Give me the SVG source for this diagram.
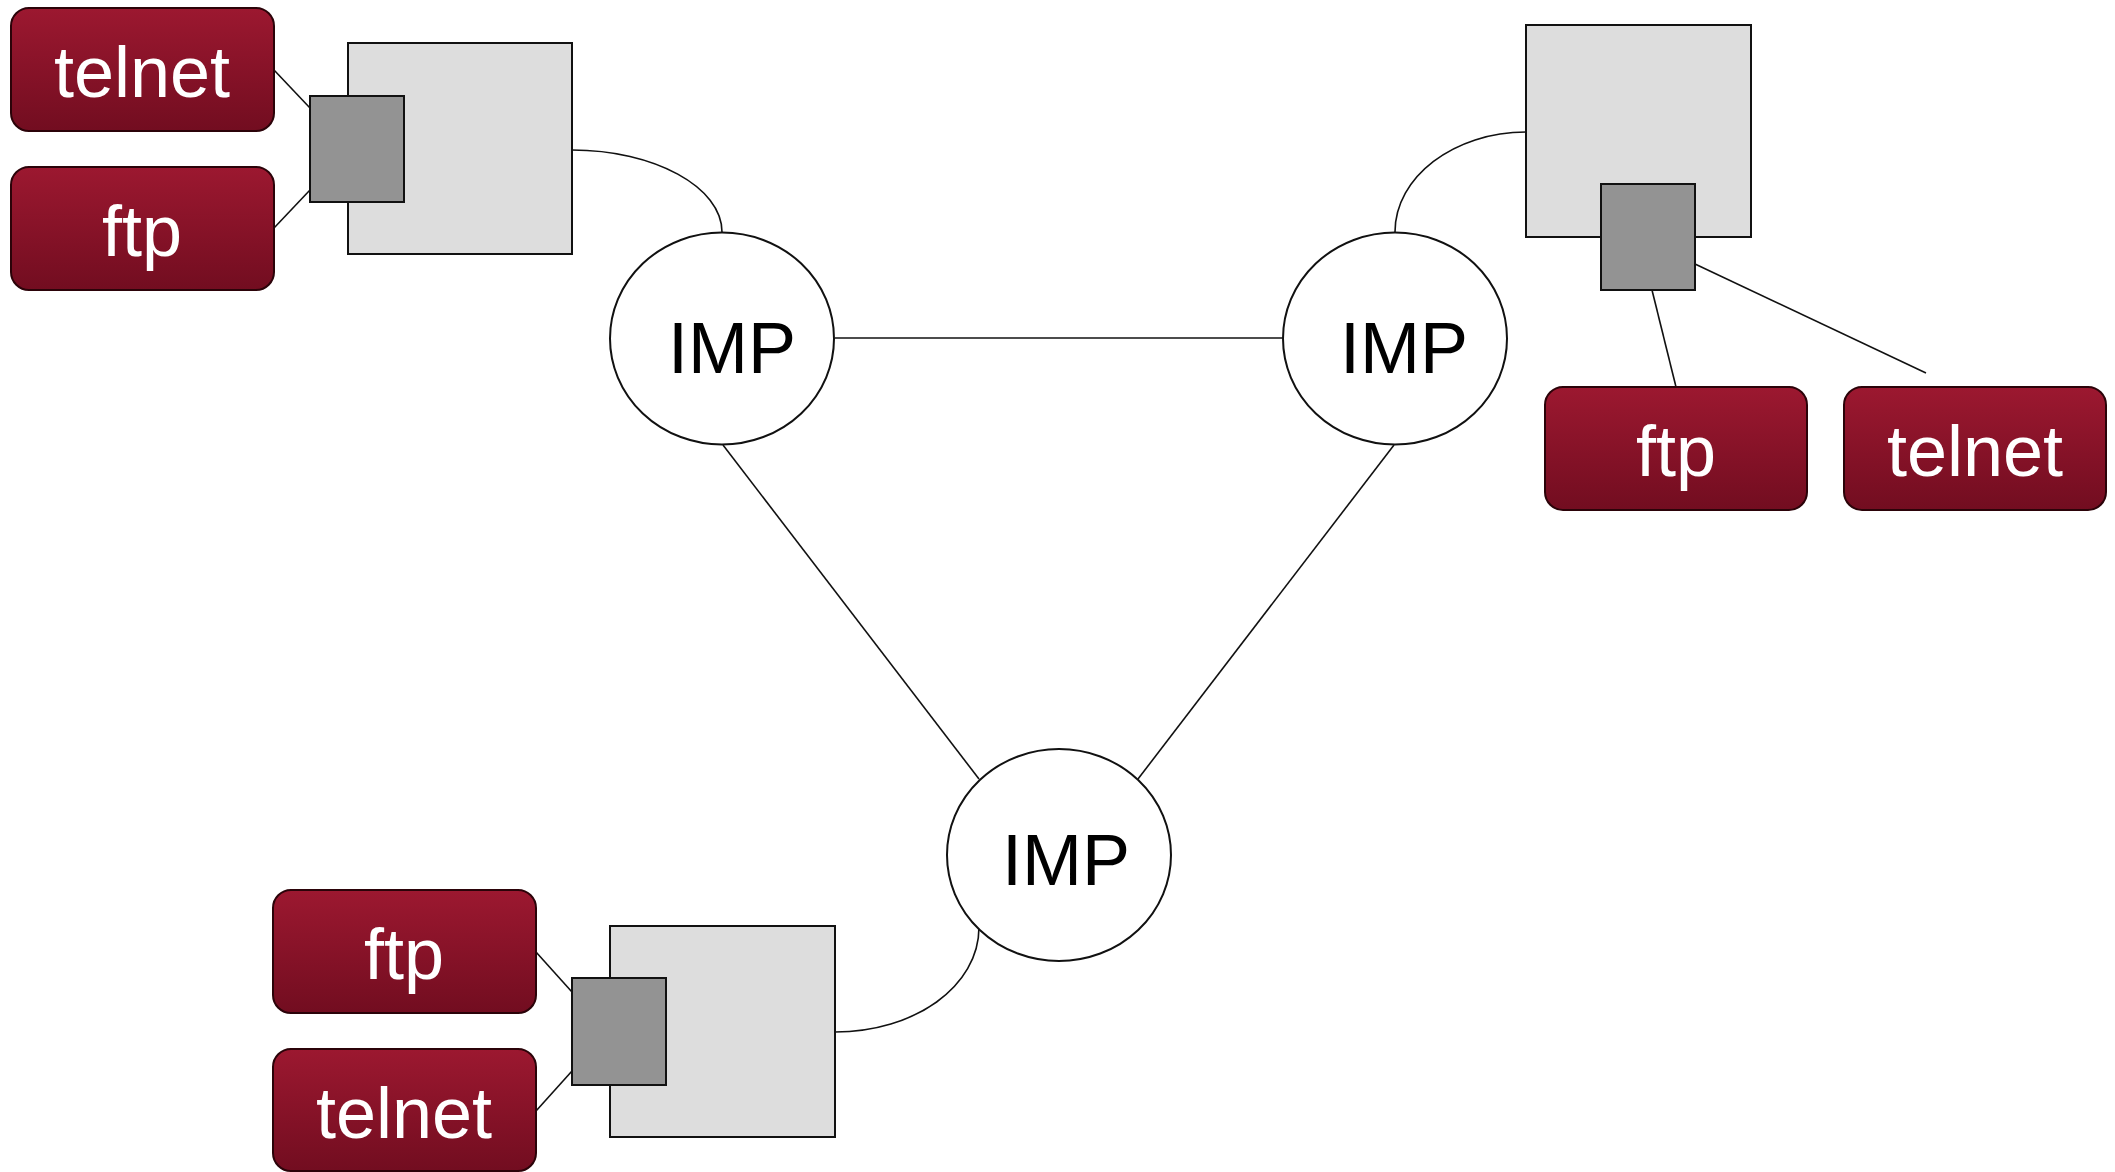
<svg xmlns="http://www.w3.org/2000/svg" width="2115" height="1172" viewBox="0 0 2115 1172">
  <defs>
    <linearGradient id="appFill" x1="0" y1="0" x2="0" y2="1">
      <stop offset="0" stop-color="#9c1830"/>
      <stop offset="1" stop-color="#720d20"/>
    </linearGradient>
    <style>
      .app rect { fill: url(#appFill); stroke: #2b0309; stroke-width: 2; }
      .app text { fill: #ffffff; font-family: "Liberation Sans", Arial, sans-serif; font-size: 72px; text-anchor: middle; }
      .host { fill: #dddddd; stroke: #111111; stroke-width: 2; }
      .port { fill: #939393; stroke: #111111; stroke-width: 2; }
      .imp ellipse { fill: #ffffff; stroke: #111111; stroke-width: 2; }
      .imp text { fill: #000000; font-family: "Liberation Sans", Arial, sans-serif; font-size: 72px; text-anchor: middle; }
      .link { fill: none; stroke: #111111; stroke-width: 1.6; }
    </style>
  </defs>
  <rect width="2115" height="1172" fill="#ffffff"/>

  <!-- connectors -->
  <g id="connectors" class="link">
    <!-- IMP backbone -->
    <line x1="835" y1="338" x2="1283" y2="338"/>
    <line x1="723" y1="445" x2="979" y2="779"/>
    <line x1="1394" y1="445" x2="1138" y2="779"/>
    <!-- hosts to IMPs -->
    <path d="M572,150 C654,150 722,187 722,232"/>
    <path d="M1395,232 C1395,177 1454,132 1526,132"/>
    <path d="M835,1032 C914,1032 979,987 979,927"/>
    <!-- applications to host ports -->
    <line x1="274" y1="70" x2="310" y2="108"/>
    <line x1="274" y1="228" x2="310" y2="190"/>
    <line x1="1652" y1="290" x2="1676" y2="387"/>
    <line x1="1695" y1="264" x2="1926" y2="373"/>
    <line x1="536" y1="952" x2="572" y2="992"/>
    <line x1="536" y1="1111" x2="572" y2="1071"/>
  </g>

  <!-- top-left host -->
  <g id="host-a">
    <rect class="host" x="348" y="43" width="224" height="211"/>
    <rect class="port" x="310" y="96" width="94" height="106"/>
  </g>
  <g id="host-a-telnet" class="app">
    <rect x="11" y="8" width="263" height="123" rx="18" ry="18"/>
    <text x="142" y="97">telnet</text>
  </g>
  <g id="host-a-ftp" class="app">
    <rect x="11" y="167" width="263" height="123" rx="18" ry="18"/>
    <text x="142" y="256">ftp</text>
  </g>

  <!-- top-right host -->
  <g id="host-b">
    <rect class="host" x="1526" y="25" width="225" height="212"/>
    <rect class="port" x="1601" y="184" width="94" height="106"/>
  </g>
  <g id="host-b-ftp" class="app">
    <rect x="1545" y="387" width="262" height="123" rx="18" ry="18"/>
    <text x="1676" y="476">ftp</text>
  </g>
  <g id="host-b-telnet" class="app">
    <rect x="1844" y="387" width="262" height="123" rx="18" ry="18"/>
    <text x="1975" y="476">telnet</text>
  </g>

  <!-- bottom-left host -->
  <g id="host-c">
    <rect class="host" x="610" y="926" width="225" height="211"/>
    <rect class="port" x="572" y="978" width="94" height="107"/>
  </g>
  <g id="host-c-ftp" class="app">
    <rect x="273" y="890" width="263" height="123" rx="18" ry="18"/>
    <text x="404" y="979">ftp</text>
  </g>
  <g id="host-c-telnet" class="app">
    <rect x="273" y="1049" width="263" height="122" rx="18" ry="18"/>
    <text x="404" y="1138">telnet</text>
  </g>

  <!-- IMPs -->
  <g id="imp-left" class="imp">
    <ellipse cx="722" cy="338.5" rx="112" ry="106"/>
    <text x="732" y="373">IMP</text>
  </g>
  <g id="imp-right" class="imp">
    <ellipse cx="1395" cy="338.5" rx="112" ry="106"/>
    <text x="1404" y="373">IMP</text>
  </g>
  <g id="imp-bottom" class="imp">
    <ellipse cx="1059" cy="855" rx="112" ry="106"/>
    <text x="1066" y="885">IMP</text>
  </g>
</svg>
